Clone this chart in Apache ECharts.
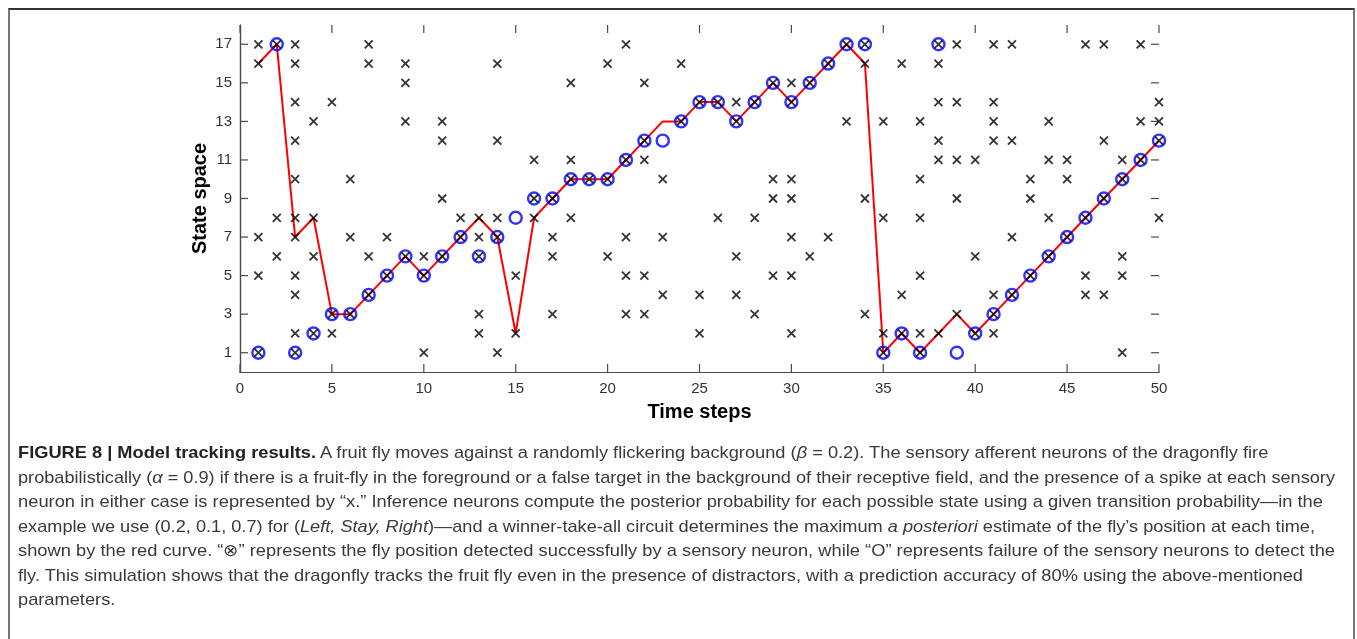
<!DOCTYPE html>
<html>
<head>
<meta charset="utf-8">
<title>Model tracking results</title>
<script src="https://cdn.jsdelivr.net/npm/echarts@6.0.0/dist/echarts.min.js"></script>
<style>
  html, body { margin: 0; padding: 0; background: #fff; }
  #page { position: relative; width: 1357px; height: 639px; overflow: hidden; }
  #frame { position: absolute; left: 8px; top: 8px; width: 1347px; height: 700px;
           border-top: 2px solid #333; border-left: 2px solid #777; border-right: 2px solid #777; box-sizing: border-box; }
  #chart { position: absolute; left: 0; top: 0; width: 1357px; height: 639px; }
  #caption { position: absolute; left: 18px; top: 441px; font-family: "Liberation Sans", Arial, sans-serif;
             font-size: 17px; color: #3a3a3a; line-height: 24.5px; }
  #caption div { white-space: nowrap; width: max-content; transform-origin: 0 50%; }
  #caption b { color: #222; }
</style>
</head>
<body>
<div id="page">
  <div id="frame"></div>
  <div id="chart"></div>
  <div id="caption">
    <div><b>FIGURE 8 | Model tracking results.</b> A fruit fly moves against a randomly flickering background (<i>β</i> = 0.2). The sensory afferent neurons of the dragonfly fire</div>
    <div data-w="1317">probabilistically (<i>α</i> = 0.9) if there is a fruit-fly in the foreground or a false target in the background of their receptive field, and the presence of a spike at each sensory</div>
    <div data-w="1305">neuron in either case is represented by “x.” Inference neurons compute the posterior probability for each possible state using a given transition probability—in the</div>
    <div data-w="1297">example we use (0.2, 0.1, 0.7) for (<i>Left, Stay, Right</i>)—and a winner-take-all circuit determines the maximum <i>a posteriori</i> estimate of the fly’s position at each time,</div>
    <div data-w="1317">shown by the red curve. “⊗” represents the fly position detected successfully by a sensory neuron, while “O” represents failure of the sensory neurons to detect the</div>
    <div data-w="1285">fly. This simulation shows that the dragonfly tracks the fruit fly even in the presence of distractors, with a prediction accuracy of 80% using the above-mentioned</div>
    <div>parameters.</div>
  </div>
</div>

<script>
  // time steps 1..50
  var steps = [1,2,3,4,5,6,7,8,9,10,11,12,13,14,15,16,17,18,19,20,21,22,23,24,25,
               26,27,28,29,30,31,32,33,34,35,36,37,38,39,40,41,42,43,44,45,46,47,48,49,50];

  // MAP estimate (red curve)
  var estimate = [16,17,7,8,3,3,4,5,6,5,6,7,8,7,2,8,9,10,10,10,11,12,13,13,14,
                  14,13,14,15,14,15,16,17,16,1,2,1,2,3,2,3,4,5,6,7,8,9,10,11,12];

  // true fly position (blue circles)
  var flyPos = [1,17,1,2,3,3,4,5,6,5,6,7,6,7,8,9,9,10,10,10,11,12,12,13,14,
                14,13,14,15,14,15,16,17,17,1,2,1,17,1,2,3,4,5,6,7,8,9,10,11,12];

  // steps where the sensory neuron missed the fly (plain "O")
  var missed = [15, 23, 39];

  // background spikes ("x") per step, not counting the fly's own spike
  var spikes = [
    [17,16,7,5], [8,6], [17,16,14,12,10,8,7,5,4,2], [13,8,6], [14,2],
    [10,7], [17,16,6], [7], [16,15,13], [6,1],
    [13,12,9], [8], [8,7,3,2], [16,12,8,1], [5,2],
    [11,8], [7,6,3], [15,11,8], [], [16,6],
    [17,7,5,3], [15,11,5,3], [10,7,4], [16], [4,2],
    [8], [14,6,4], [8,3], [10,9,5], [15,10,9,7,5,2],
    [6], [7], [13], [16,9,3], [13,8,2],
    [16,4], [13,10,8,5,2], [16,14,12,11,2], [17,14,11,9,3], [11,6],
    [17,14,13,12,4,2], [17,12,7], [10,9], [13,11,8], [11,10],
    [17,5,4], [17,12,4], [11,6,5,1], [17,13], [14,13,8]
  ];

  // tick positions: x every 5 steps, y on the odd states
  var xTicks = [0,5,10,15,20,25,30,35,40,45,50];
  var yTicks = [1,3,5,7,9,11,13,15,17];
  var xMin = 0, xMax = 50, yMin = 0, yMax = 18;

  var lineData = steps.map(function (t, i) { return [t, estimate[i]]; });
  var circleData = steps.map(function (t, i) { return [t, flyPos[i]]; });
  var crossData = [];
  steps.forEach(function (t, i) {
    spikes[i].forEach(function (v) { crossData.push([t, v]); });
    if (missed.indexOf(t) < 0) crossData.push([t, flyPos[i]]);
  });

  var axisColor = '#4a4a4a';
  var tickLen = 8;
  var labelStyle = { color: '#333', fontSize: 15, fontFamily: 'Liberation Sans, Arial, sans-serif' };
  var nameStyle = { color: '#000', fontSize: 20, fontWeight: 'bold', fontFamily: 'Liberation Sans, Arial, sans-serif' };
  var line = { show: true, lineStyle: { color: axisColor, width: 1.2 } };
  var tickStyle = { stroke: axisColor, lineWidth: 1.2 };

  // inward ticks on all four sides of the box
  function xTickItem(params, api) {
    var b = api.coord([api.value(0), yMin]);
    var t = api.coord([api.value(0), yMax]);
    return { type: 'group', children: [
      { type: 'line', shape: { x1: b[0], y1: b[1], x2: b[0], y2: b[1] - tickLen }, style: tickStyle },
      { type: 'line', shape: { x1: t[0], y1: t[1], x2: t[0], y2: t[1] + tickLen }, style: tickStyle }
    ] };
  }
  function yTickItem(params, api) {
    var l = api.coord([xMin, api.value(1)]);
    var r = api.coord([xMax, api.value(1)]);
    return { type: 'group', children: [
      { type: 'line', shape: { x1: l[0], y1: l[1], x2: l[0] + tickLen, y2: l[1] }, style: tickStyle },
      { type: 'line', shape: { x1: r[0], y1: r[1], x2: r[0] - tickLen, y2: r[1] }, style: tickStyle }
    ] };
  }

  var chart = echarts.init(document.getElementById('chart'));
  chart.setOption({
    animation: false,
    grid: { left: 240, top: 25, width: 919, height: 347, outerBoundsMode: 'none' },
    xAxis: [{
      type: 'value', min: xMin, max: xMax, interval: 5, position: 'bottom',
      name: 'Time steps', nameLocation: 'middle', nameGap: 30, nameMoveOverlap: false, nameTextStyle: nameStyle,
      axisLine: line, axisTick: { show: false },
      axisLabel: Object.assign({ margin: 9 }, labelStyle),
      splitLine: { show: false }
    }, {
      type: 'value', min: xMin, max: xMax, interval: 5, position: 'top',
      axisLine: line, axisTick: { show: false }, axisLabel: { show: false },
      splitLine: { show: false }
    }],
    yAxis: [{
      type: 'value', min: yMin, max: yMax, position: 'left',
      name: 'State space', nameLocation: 'middle', nameGap: 30, nameMoveOverlap: false, nameTextStyle: nameStyle,
      axisLine: line, axisTick: { show: false },
      axisLabel: Object.assign({ margin: 8, customValues: yTicks }, labelStyle),
      splitLine: { show: false }
    }, {
      type: 'value', min: yMin, max: yMax, position: 'right',
      axisLine: line, axisTick: { show: false }, axisLabel: { show: false },
      splitLine: { show: false }
    }],
    series: [{
      name: 'xTicks', type: 'custom', renderItem: xTickItem, silent: true, z: 1,
      data: xTicks.map(function (v) { return [v, yMin]; })
    }, {
      name: 'yTicks', type: 'custom', renderItem: yTickItem, silent: true, z: 1,
      data: yTicks.map(function (v) { return [xMin, v]; })
    }, {
      name: 'estimate', type: 'line', data: lineData, symbol: 'none', z: 2,
      lineStyle: { color: '#ff0000', width: 2 }
    }, {
      name: 'fly', type: 'scatter', data: circleData, symbol: 'circle', symbolSize: 12, z: 3,
      itemStyle: { color: 'transparent', borderColor: '#0000ff', borderWidth: 2.4 }
    }, {
      name: 'spikes', type: 'scatter', data: crossData, symbol: 'path://M0,0L10,10M10,0L0,10', symbolSize: 8, z: 4,
      itemStyle: { color: 'transparent', borderColor: '#000', borderWidth: 1.8 }
    }]
  });

  // squeeze caption lines to the widths they have in the figure;
  // lines without a target width use the mean squeeze
  var lines = document.querySelectorAll('#caption div');
  var scales = [];
  lines.forEach(function (el) {
    var w = +el.getAttribute('data-w');
    if (w) {
      var s = w / el.getBoundingClientRect().width;
      scales.push(s);
      el.style.transform = 'scaleX(' + s + ')';
    }
  });
  var avg = scales.reduce(function (a, b) { return a + b; }, 0) / scales.length;
  lines.forEach(function (el) {
    if (!el.getAttribute('data-w')) el.style.transform = 'scaleX(' + avg + ')';
  });
</script>
</body>
</html>
